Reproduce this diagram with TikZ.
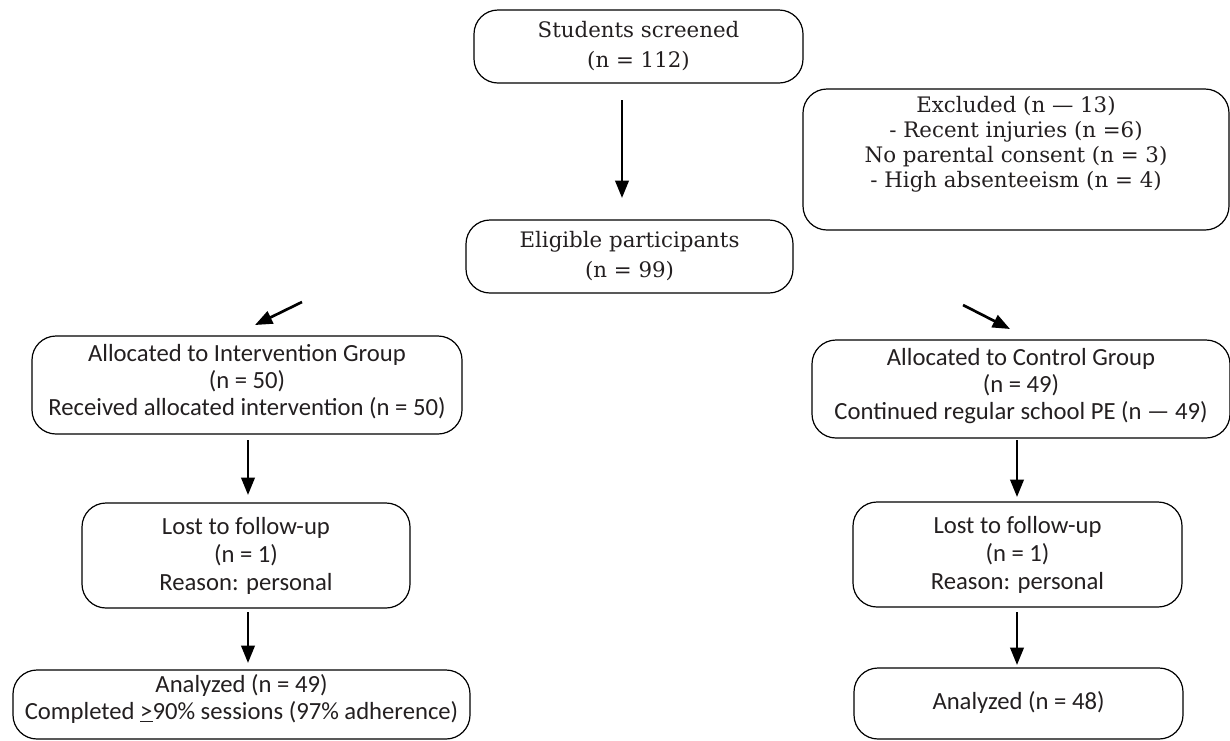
\documentclass[tikz,border=0pt]{standalone}
\usepackage{fontspec}
\setmainfont{DejaVu Serif}
\newfontfamily\sansf{Carlito}
\usetikzlibrary{arrows.meta}
\definecolor{txt}{HTML}{231F20}
\tikzset{
  every node/.style={text=txt},
  boxS/.style={draw=black, line width=0.9pt, rounded corners=18pt, align=center, inner sep=0pt,
    font=\fontsize{16}{22.5}\selectfont},
  boxE/.style={boxS, font=\fontsize{16}{18.75}\selectfont},
  boxC/.style={draw=black, line width=0.9pt, rounded corners=18pt, align=center, inner sep=0pt,
    font=\sansf\fontsize{18.5}{20.5}\selectfont},
  boxL/.style={boxC, font=\sansf\fontsize{18.5}{21}\selectfont},
  arr/.style={line width=2pt, -{Triangle[length=13pt,width=10pt]}},
}
\begin{document}
\begin{tikzpicture}[x=0.75pt,y=-0.75pt]
\useasboundingbox (0,0) rectangle (1230,740);
\node[boxS, minimum width=329*0.75pt, minimum height=73*0.75pt] (scr) at (638.5,46.5) {Students screened\\(n = 112)};
\node[boxS, minimum width=327*0.75pt, minimum height=73*0.75pt] (elig) at (629.5,256.5) {Eligible participants\\(n = 99)};
\node[boxE, minimum width=426*0.75pt, minimum height=141*0.75pt] (excl) at (1016,159.5) {Excluded (n — 13)\\- Recent injuries (n =6)\\No parental consent (n = 3)\\- High absenteeism (n = 4)\\[8pt]\mbox{}};
\node[boxC, minimum width=430*0.75pt, minimum height=98*0.75pt] (intv) at (247,385) {Allocated to Intervention Group\\(n = 50)\\Received allocated intervention (n = 50)\\[-13pt]\mbox{}};
\node[boxC, minimum width=418*0.75pt, minimum height=98*0.75pt] (ctrl) at (1021,389) {Allocated to Control Group\\(n = 49)\\Continued regular school PE (n — 49)\\[-13pt]\mbox{}};
\node[boxL, minimum width=328*0.75pt, minimum height=105*0.75pt] (lostL) at (246,555.5) {Lost to follow-up\\(n = 1)\\Reason: personal\\[-18pt]\mbox{}};
\node[boxL, minimum width=329*0.75pt, minimum height=105*0.75pt] (lostR) at (1017.5,554.5) {Lost to follow-up\\(n = 1)\\Reason: personal\\[-18pt]\mbox{}};
\node[boxC, minimum width=457*0.75pt, minimum height=69*0.75pt] (anaL) at (241.5,704.5) {Analyzed (n = 49)\\Completed \underline{>}90\% sessions (97\% adherence)\\[-9pt]\mbox{}};
\node[boxC, minimum width=329*0.75pt, minimum height=71*0.75pt] (anaR) at (1018.5,703.5) {Analyzed (n = 48)\\[-16pt]\mbox{}};
\coordinate (a1s) at (622,100); \coordinate (a1e) at (622,198);
\coordinate (a2s) at (302,302); \coordinate (a2e) at (255,325);
\coordinate (a3s) at (963,305); \coordinate (a3e) at (1010,329);
\coordinate (a4s) at (248,440); \coordinate (a4e) at (248,495);
\coordinate (a5s) at (248,612); \coordinate (a5e) at (248,663);
\coordinate (a6s) at (1017,440); \coordinate (a6e) at (1017,497);
\coordinate (a7s) at (1017,612); \coordinate (a7e) at (1017,665);
\draw[arr] (a1s) -- (a1e);
\draw[arr] (a2s) -- (a2e);
\draw[arr] (a3s) -- (a3e);
\draw[arr] (a4s) -- (a4e);
\draw[arr] (a5s) -- (a5e);
\draw[arr] (a6s) -- (a6e);
\draw[arr] (a7s) -- (a7e);
\end{tikzpicture}
\end{document}
